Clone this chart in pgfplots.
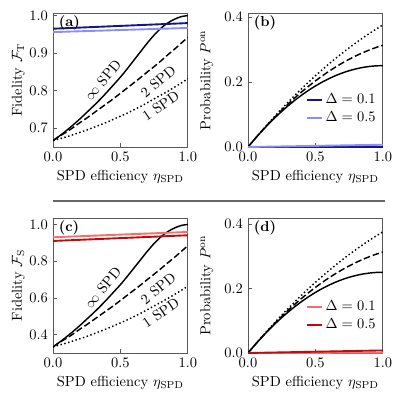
\documentclass[border=0pt]{standalone}
\usepackage{pgfplots}
\pgfplotsset{compat=1.18}
\definecolor{dblue}{RGB}{20,20,140}
\definecolor{lblue}{RGB}{140,140,250}
\definecolor{lred}{RGB}{245,110,110}
\definecolor{darkred2}{RGB}{195,10,10}

% black curves, eta = 0, 0.05, ..., 1
\pgfplotstableread{
eta   fTinf fT2   fT1   fSinf fS2   fS1   pinf   p2     p1
0.00  0.667 0.667 0.667 0.333 0.333 0.333 0.0000 0.0000 0.0000
0.05  0.680 0.679 0.672 0.360 0.358 0.344 0.0244 0.0245 0.0247
0.10  0.694 0.690 0.677 0.388 0.380 0.354 0.0475 0.0481 0.0488
0.15  0.709 0.702 0.683 0.418 0.404 0.366 0.0694 0.0708 0.0722
0.20  0.725 0.715 0.689 0.450 0.430 0.378 0.0900 0.0925 0.0950
0.25  0.742 0.727 0.695 0.484 0.454 0.390 0.1094 0.1133 0.1172
0.30  0.759 0.740 0.702 0.518 0.480 0.404 0.1275 0.1331 0.1388
0.35  0.777 0.753 0.709 0.554 0.506 0.418 0.1444 0.1520 0.1597
0.40  0.796 0.766 0.716 0.592 0.532 0.432 0.1600 0.1700 0.1800
0.45  0.816 0.779 0.724 0.632 0.558 0.448 0.1744 0.1870 0.1997
0.50  0.836 0.793 0.732 0.672 0.586 0.464 0.1875 0.2031 0.2188
0.55  0.858 0.807 0.740 0.716 0.614 0.480 0.1994 0.2183 0.2372
0.60  0.881 0.821 0.749 0.762 0.642 0.498 0.2100 0.2325 0.2550
0.65  0.904 0.835 0.758 0.808 0.670 0.516 0.2194 0.2458 0.2722
0.70  0.927 0.850 0.768 0.854 0.700 0.536 0.2275 0.2581 0.2888
0.75  0.948 0.864 0.778 0.896 0.729 0.556 0.2344 0.2695 0.3047
0.80  0.966 0.879 0.788 0.932 0.759 0.576 0.2400 0.2800 0.3200
0.85  0.980 0.895 0.798 0.960 0.790 0.596 0.2444 0.2895 0.3347
0.90  0.990 0.910 0.809 0.980 0.820 0.618 0.2475 0.2981 0.3488
0.95  0.997 0.926 0.820 0.994 0.852 0.640 0.2494 0.3058 0.3622
1.00  1.000 0.942 0.832 1.000 0.884 0.664 0.2500 0.3125 0.3750
}\curves

\pgfplotsset{
  panel/.style={
    scale only axis, width=93pt, height=92.5pt,
    xmin=0, xmax=1,
    axis line style={draw=black!65},
    every tick/.style={black!65},
    tick align=inside, xtick pos=bottom, ytick pos=left,
    major tick length=2.5pt,
    xtick={0,0.5,1}, xticklabels={0.0,0.5,1.0},
    xlabel={SPD efficiency $\eta_\mathrm{SPD}$},
    xlabel style={at={(axis description cs:0.5,-0.22)}, anchor=center},
    legend style={draw=none, fill=none, inner sep=0pt, row sep=0pt,
      at={(axis description cs:0.97,0.15)}, anchor=south east},
    legend cell align=left,
    legend image code/.code={\draw[#1] (0pt,0pt) -- (10pt,0pt);},
  },
  inf/.style={black, line width=1pt, smooth},
  two/.style={black, line width=1pt, dash pattern=on 4.5pt off 2pt, smooth},
  one/.style={black, line width=1pt, dash pattern=on 1pt off 1.7pt, smooth},
}

\begin{document}
\begin{tikzpicture}
\useasboundingbox (0,0) rectangle (278.07pt,276.69pt);

% (a)
\begin{axis}[panel, at={(36.57pt,175.26pt)}, anchor=south west,
  ymin=0.65, ymax=1.007,
  ytick={0.7,0.8,0.9,1.0}, yticklabels={0.7,0.8,0.9,1.0},
  ylabel={Fidelity $\mathcal{F}_\mathrm{T}$},
  ylabel style={at={(axis description cs:-0.257,0.5)}, anchor=center}]
\addplot[inf] table[x=eta, y=fTinf] {\curves};
\addplot[two] table[x=eta, y=fT2] {\curves};
\addplot[one] table[x=eta, y=fT1] {\curves};
\addplot[dblue, line width=1.3pt] coordinates {(0,0.965) (1,0.980)};
\addplot[lblue, line width=1.3pt] coordinates {(0,0.956) (1,0.967)};
\node[rotate=50] at (axis cs:0.37,0.828) {$\infty$ SPD};
\node[rotate=40] at (axis cs:0.78,0.825) {2 SPD};
\node[rotate=34] at (axis cs:0.80,0.759) {1 SPD};
\node[anchor=north west, inner sep=1pt] at (rel axis cs:0.03,0.99) {\textbf{(a)}};
\end{axis}

% (b)
\begin{axis}[panel, at={(171.12pt,175.26pt)}, anchor=south west,
  ymin=0, ymax=0.412,
  ytick={0,0.2,0.4}, yticklabels={0.0,0.2,0.4},
  ylabel={Probability $P^\mathrm{on}$},
  ylabel style={at={(axis description cs:-0.306,0.5)}, anchor=center}]
\addlegendimage{dblue, line width=1.3pt}
\addlegendimage{lblue, line width=1.3pt}
\addplot[inf, forget plot] table[x=eta, y=pinf] {\curves};
\addplot[two, forget plot] table[x=eta, y=p2] {\curves};
\addplot[one, forget plot] table[x=eta, y=p1] {\curves};
\addplot[dblue, line width=1.3pt, forget plot] coordinates {(0,0) (1,0.0005)};
\addplot[lblue, line width=1.3pt, forget plot] coordinates {(0,0) (1,0.007)};
\legend{$\Delta=0.1$, $\Delta=0.5$}
\node[anchor=north west, inner sep=1pt] at (rel axis cs:0.03,0.99) {\textbf{(b)}};
\end{axis}

\draw[black!60, line width=0.9pt] (36.57pt,138pt) -- (265.65pt,138pt);

% (c)
\begin{axis}[panel, at={(36.57pt,33.12pt)}, anchor=south west, height=93.15pt,
  ymin=0.3, ymax=1.035,
  ytick={0.4,0.6,0.8,1.0}, yticklabels={0.4,0.6,0.8,1.0},
  ylabel={Fidelity $\mathcal{F}_\mathrm{S}$},
  ylabel style={at={(axis description cs:-0.257,0.5)}, anchor=center}]
\addplot[inf] table[x=eta, y=fSinf] {\curves};
\addplot[two] table[x=eta, y=fS2] {\curves};
\addplot[one] table[x=eta, y=fS1] {\curves};
\addplot[lred, line width=1.3pt] coordinates {(0,0.930) (1,0.959)};
\addplot[darkred2, line width=1.3pt] coordinates {(0,0.910) (1,0.941)};
\node[rotate=50] at (axis cs:0.37,0.657) {$\infty$ SPD};
\node[rotate=40] at (axis cs:0.78,0.650) {2 SPD};
\node[rotate=34] at (axis cs:0.80,0.518) {1 SPD};
\node[anchor=north west, inner sep=1pt] at (rel axis cs:0.03,0.99) {\textbf{(c)}};
\end{axis}

% (d)
\begin{axis}[panel, at={(171.12pt,33.12pt)}, anchor=south west, height=93.15pt,
  ymin=0, ymax=0.418,
  ytick={0,0.2,0.4}, yticklabels={0.0,0.2,0.4},
  ylabel={Probability $P^\mathrm{on}$},
  ylabel style={at={(axis description cs:-0.306,0.5)}, anchor=center},
  legend style={at={(axis description cs:0.97,0.14)}}]
\addlegendimage{lred, line width=1.3pt}
\addlegendimage{darkred2, line width=1.3pt}
\addplot[inf, forget plot] table[x=eta, y=pinf] {\curves};
\addplot[two, forget plot] table[x=eta, y=p2] {\curves};
\addplot[one, forget plot] table[x=eta, y=p1] {\curves};
\addplot[lred, line width=1.3pt, forget plot] coordinates {(0,0) (1,0.001)};
\addplot[darkred2, line width=1.3pt, forget plot] coordinates {(0,0) (1,0.008)};
\legend{$\Delta=0.1$, $\Delta=0.5$}
\node[anchor=north west, inner sep=1pt] at (rel axis cs:0.03,0.99) {\textbf{(d)}};
\end{axis}
\end{tikzpicture}
\end{document}
